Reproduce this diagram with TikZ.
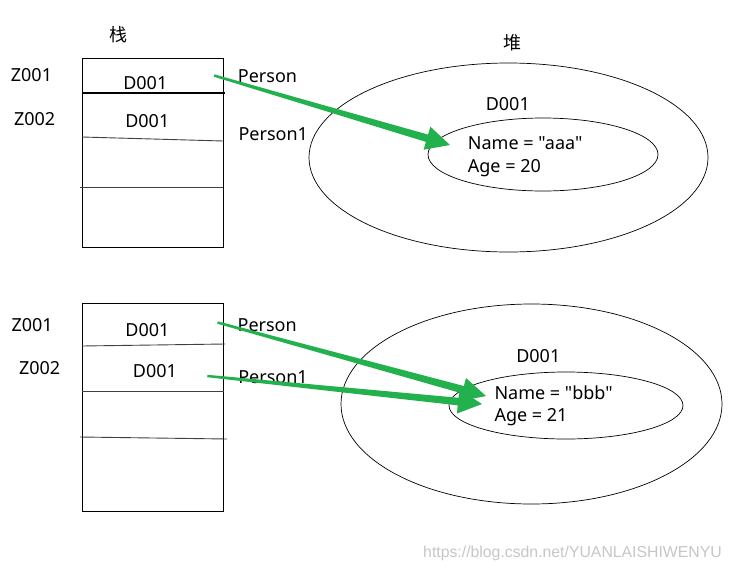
\documentclass[tikz,border=0pt]{standalone}
\usepackage{fontspec}
\setmainfont{Noto Sans}
\newfontfamily\lblfont{Noto Sans}
\newfontfamily\cjk{Noto Sans CJK SC}
\newfontfamily\wmfont{Liberation Sans}
\usetikzlibrary{calc,shapes.geometric}
\definecolor{arrowgreen}{RGB}{34,177,76}
\newcommand\greenarrow[2]{%
  \path ($(#2)!24pt!(#1)$) coordinate (hb);
  \fill[arrowgreen] ($(#1)!1.2pt!90:(#2)$) -- ($(hb)!3.8pt!90:(#2)$) -- ($(hb)!12pt!90:(#2)$) -- (#2)
    -- ($(hb)!12pt!-90:(#2)$) -- ($(hb)!3.8pt!-90:(#2)$) -- ($(#1)!1.2pt!-90:(#2)$) -- cycle;}
\begin{document}
\begin{tikzpicture}[x=1pt,y=-1pt,
  lbl/.style={inner sep=0pt, font=\lblfont\fontsize{18}{21}\selectfont},
  han/.style={inner sep=0pt, font=\cjk\fontsize{18}{20}\selectfont},
  stackbox/.style={draw=black, line width=0.9pt, minimum width=141pt, inner sep=0pt},
  divider/.style={draw=black!75, line width=0.9pt},
  heap/.style={draw=black, line width=0.7pt, ellipse, inner sep=0pt}]
\useasboundingbox[fill=white] (0,0) rectangle (733,573);

% ---------- top half ----------
\node[han] (zhan) at (118.8,34.5) {栈};
\node[han] (dui) at (512,43) {堆};
\node[stackbox, minimum height=189pt] (stackA) at (152.5,152.5) {};
\draw[black, line width=1.8pt] (82,93) -- (225,93);
\draw[divider] (82,137) -- (223,141);
\draw[divider] (80,187) -- (223,187);
\node[lbl] (zA1) at (31.5,74.7) {Z001};
\node[lbl] (zA2) at (34.7,119.3) {Z002};
\node[lbl] (dA1) at (145.3,83) {D001};
\node[lbl] (dA2) at (147.3,121.2) {D001};
\node[lbl] (pA1) at (267.5,76.3) {Person};
\node[lbl] (pA2) at (273.3,133.7) {Person1};
\node[heap, minimum width=399pt, minimum height=189pt] (heapA) at (508.5,157.5) {};
\node[heap, minimum width=230pt, minimum height=73pt] (objA) at (543,154.5) {};
\node[lbl] (hdA) at (507.8,103.7) {D001};
\node[lbl, anchor=base west] (nameA) at (467.7,149) {Name = "aaa"};
\node[lbl, anchor=base west] (ageA) at (467.7,172) {Age = 20};
\coordinate (tA1) at (214,75.5);
\coordinate (hA1) at (450,145);
\greenarrow{tA1}{hA1}

% ---------- bottom half ----------
\node[stackbox, minimum height=208pt] (stackB) at (153,407) {};
\draw[divider] (82,346) -- (225,344);
\draw[divider] (82,391) -- (224,391);
\draw[divider] (80,437) -- (227,439);
\node[lbl] (zB1) at (32.2,325) {Z001};
\node[lbl] (zB2) at (39.7,368.3) {Z002};
\node[lbl] (dB1) at (147.5,330.5) {D001};
\node[lbl] (dB2) at (155,371.2) {D001};
\node[lbl] (pB1) at (267.2,325.3) {Person};
\node[lbl] (pB2) at (273,377.5) {Person1};
\node[heap, minimum width=381pt, minimum height=200pt] (heapB) at (531.5,404) {};
\node[heap, minimum width=234pt, minimum height=67pt] (objB) at (566,405.5) {};
\node[lbl] (hdB) at (538.3,355.8) {D001};
\node[lbl, anchor=base west] (nameB) at (494.3,399) {Name = "bbb"};
\node[lbl, anchor=base west] (ageB) at (494.3,421.7) {Age = 21};
\coordinate (tB1) at (217.5,322.5);
\coordinate (hB1) at (486,396);
\coordinate (tB2) at (207.3,376);
\coordinate (hB2) at (482,404);
\greenarrow{tB1}{hB1}
\greenarrow{tB2}{hB2}

% watermark
\node[inner sep=0pt, text=black!22, font=\wmfont\fontsize{15.8}{18}\selectfont] (wm) at (572.5,553) {https://blog.csdn.net/YUANLAISHIWENYU};
\end{tikzpicture}
\end{document}
